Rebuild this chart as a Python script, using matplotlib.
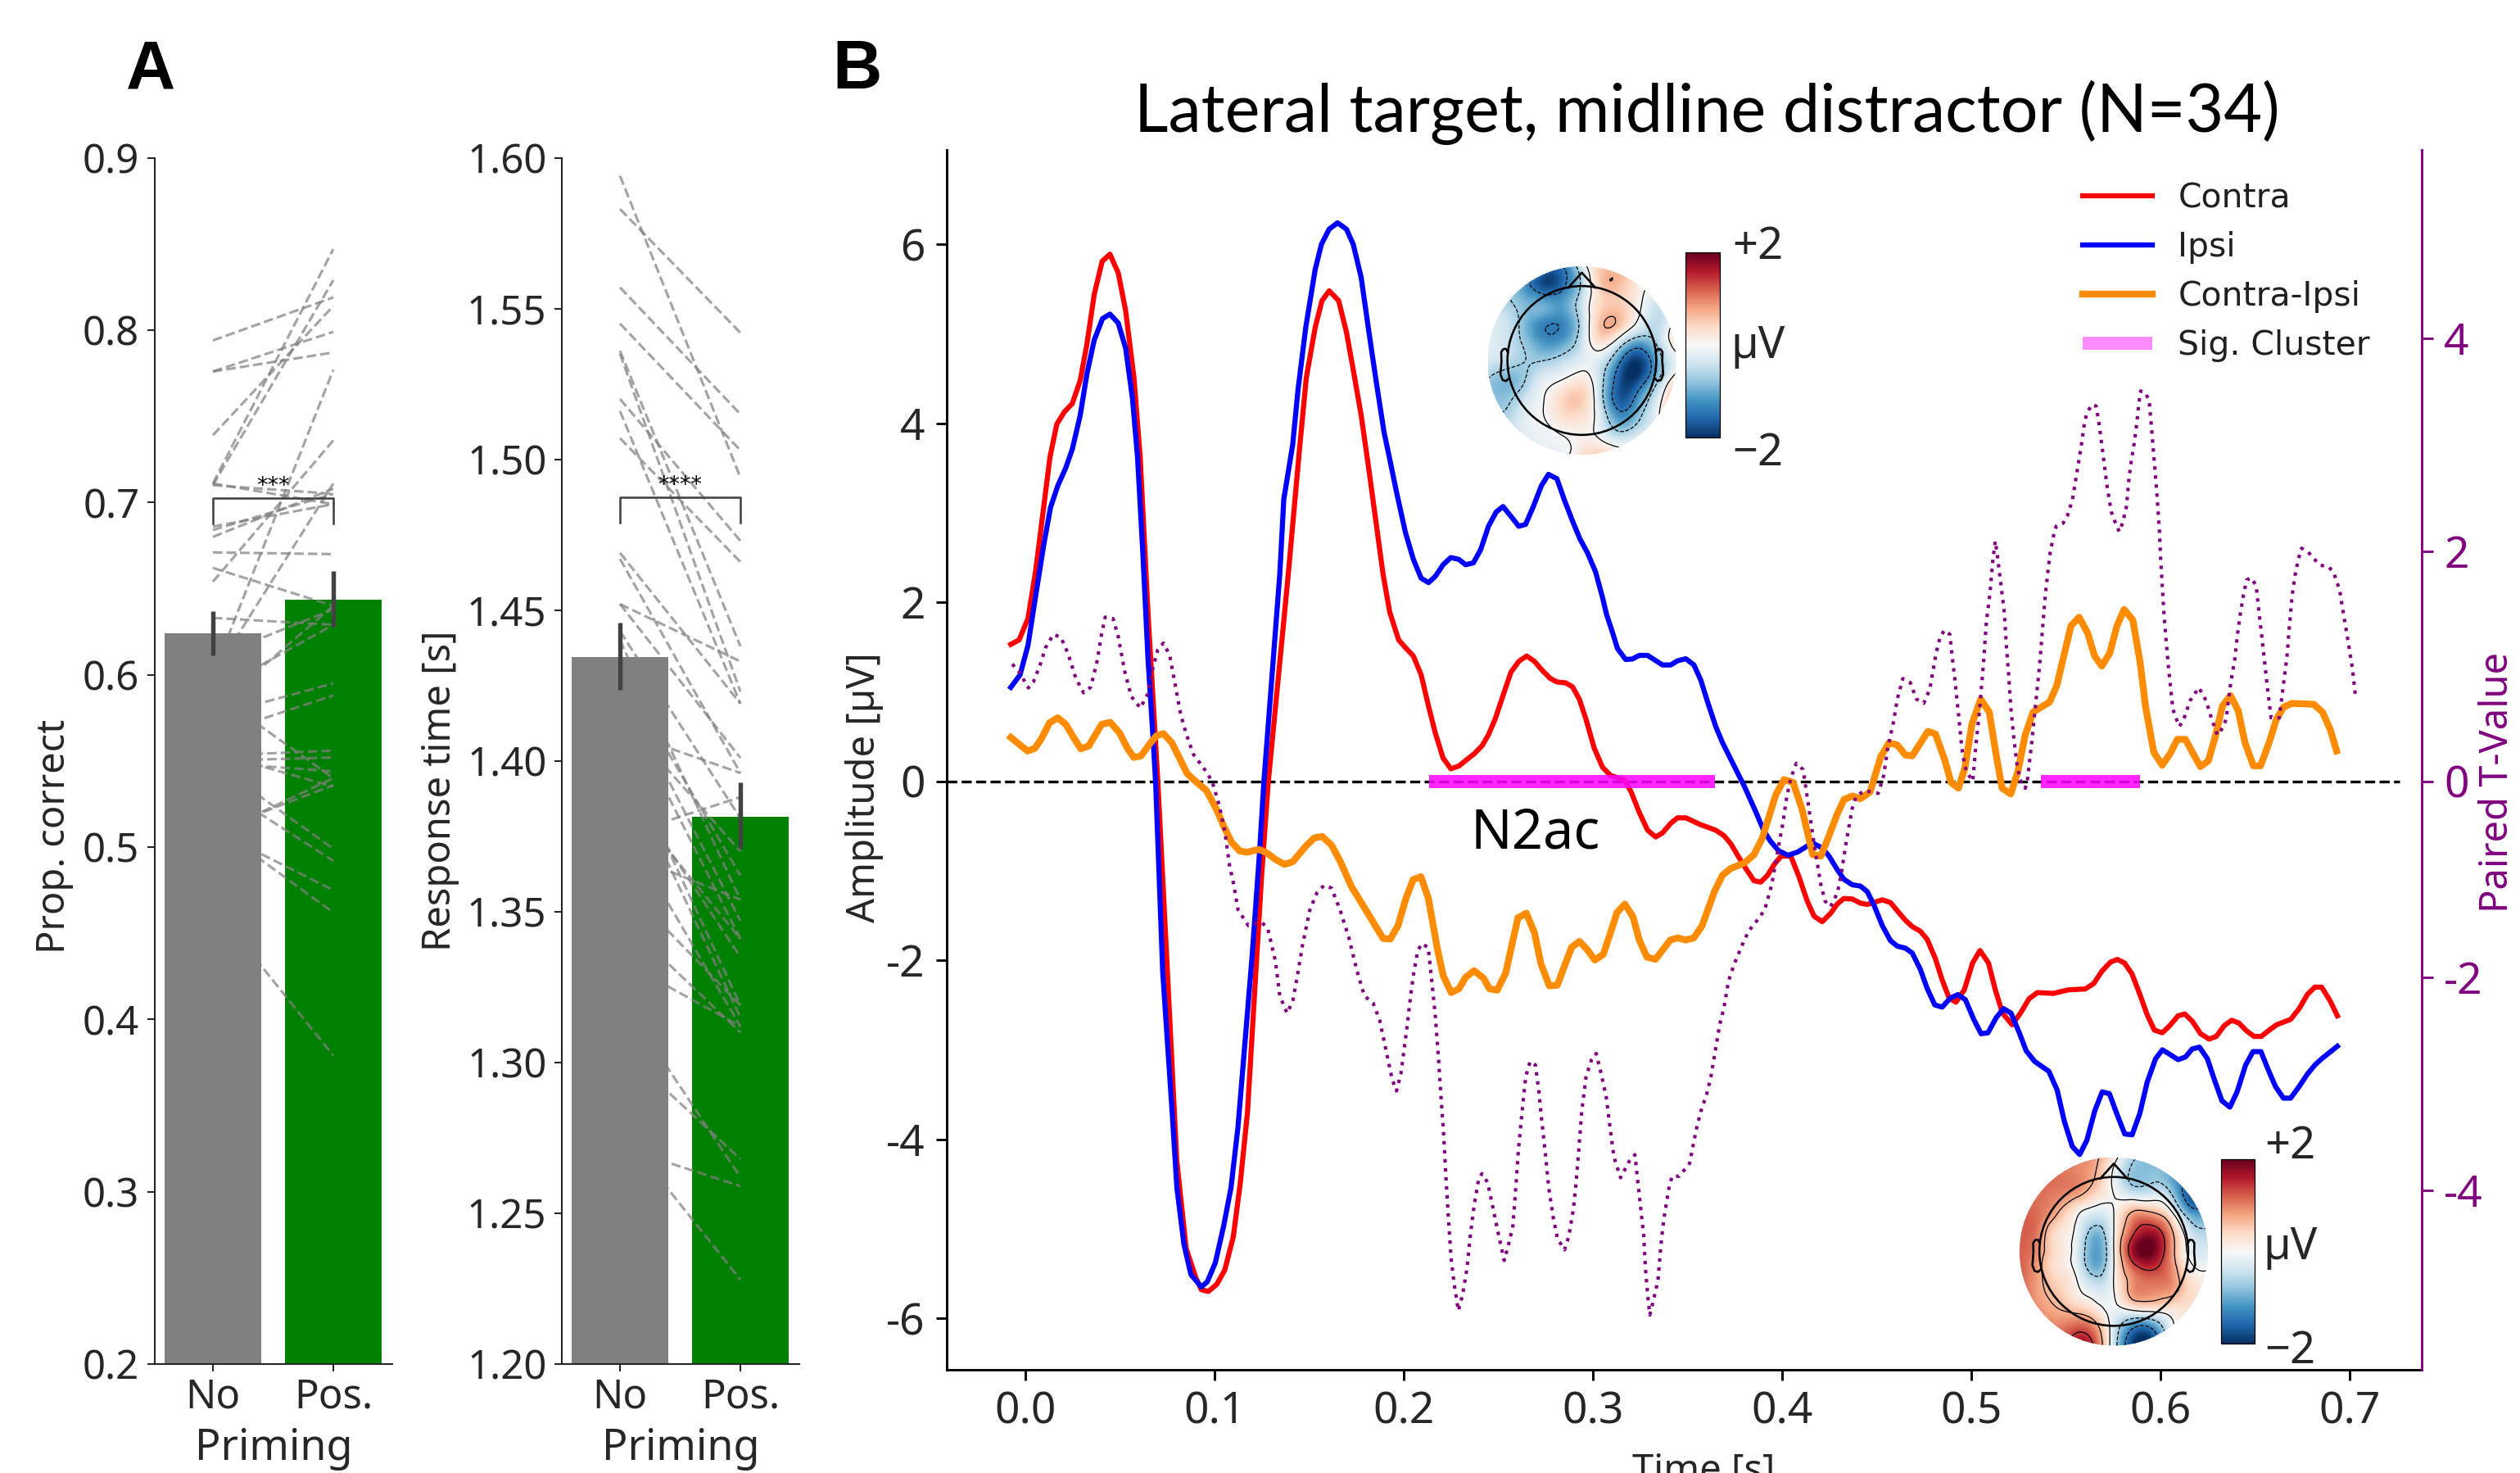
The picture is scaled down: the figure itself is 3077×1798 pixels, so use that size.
import numpy as np
import matplotlib
matplotlib.use("Agg")
import matplotlib.pyplot as plt
from matplotlib.lines import Line2D
from matplotlib.patches import Ellipse, Circle
from matplotlib.tri import Triangulation, UniformTriRefiner
from matplotlib.cm import ScalarMappable
from matplotlib.colors import Normalize

plt.rcParams['font.family'] = ['Noto Sans', 'DejaVu Sans']
plt.rcParams['axes.unicode_minus'] = False
plt.rcParams['contour.negative_linestyle'] = 'dashed'

# ---------------- panel A data ----------------
priming = ['No', 'Pos.']
acc_mean = [0.624, 0.6437]
acc_err = [[0.611, 0.637], [0.628, 0.660]]
rt_mean = [1.4345, 1.3816]
rt_err = [[1.4235, 1.4459], [1.371, 1.3928]]
acc_no = [.794, .776, .776, .739, .711, .710, .711, .710, .600, .684, .680, .686, .671, .654, .662, .633, .600,
          .580, .610, .590, .576, .565, .590, .553, .550, .549, .555, .507, .509, .549, .537, .510, .513, .466]
acc_pos = [.819, .799, .787, .814, .847, .829, .699, .705, .777, .705, .708, .699, .670, .736, .640, .629, .711,
           .640, .638, .629, .595, .588, .540, .556, .552, .544, .535, .540, .536, .499, .492, .475, .462, .379]
rt_no = [1.594, 1.583, 1.557, 1.545, 1.536, 1.535, 1.520, 1.516, 1.507, 1.469, 1.467, 1.452, 1.452, 1.443, 1.440,
         1.430, 1.425, 1.420, 1.415, 1.410, 1.405, 1.400, 1.395, 1.390, 1.380, 1.375, 1.370, 1.360, 1.348, 1.334,
         1.322, 1.305, 1.272, 1.278]
rt_pos = [1.494, 1.542, 1.515, 1.503, 1.438, 1.423, 1.473, 1.419, 1.466, 1.419, 1.396, 1.433, 1.401, 1.381, 1.354,
          1.362, 1.347, 1.341, 1.370, 1.396, 1.319, 1.315, 1.335, 1.341, 1.312, 1.388, 1.354, 1.319, 1.310, 1.312,
          1.262, 1.268, 1.259, 1.228]

# ---------------- panel B data ----------------
contra_t = [-.0077,-.0033,.0014,.0055,.0097,.0130,.0166,.0207,.0248,.0290,.0325,.0364,.0406,.0447,.0491,.0530,.0574,.0607,.0648,
            .0701,.0751,.0800,.0850,.0900,.0930,.0967,.1012,.1054,.1099,.1136,.1174,.1211,.1248,.1284,.1390,.1449,.1485,
            .1532,.1568,.1606,.1656,.1697,.1733,.1775,.1816,.1855,.1891,.1926,.1973,.2015,.2051,.2092,.2131,.2167,.2208,
            .2249,.2291,.2332,.2374,.2415,.2448,.2484,.2525,.2567,.2608,.2650,.2691,.2732,.2774,.2810,.2856,.2892,.2928,
            .2964,.3007,.3051,.3094,.3166,.3202,.3245,.3289,.3332,.3368,.3411,.3447,.3491,.3570,.3649,.3693,.3729,.3772,
            .3808,.3851,.3887,.3923,.3959,.3995,.4046,.4089,.4133,.4169,.4212,.4256,.4292,.4327,.4371,.4414,.4450,.4530,
            .4573,.4609,.4652,.4688,.4731,.4767,.4810,.4847,.4883,.4919,.4963,.5007,.5046,.5091,.5127,.5165,.5216,.5260,
            .5305,.5350,.5433,.5513,.5602,.5647,.5691,.5736,.5772,.5810,.5849,.5891,.5930,.5968,.6010,.6049,.6093,.6129,
            .6168,.6212,.6257,.6295,.6337,.6376,.6414,.6456,.6495,.6533,.6575,.6614,.6688,.6733,.6777,.6816,.6852,.6896,.6935]
contra_v = [1.53,1.58,1.82,2.36,3.07,3.62,3.99,4.13,4.22,4.48,4.88,5.44,5.81,5.89,5.68,5.26,4.51,3.62,1.89,
            -.033,-2.13,-4.23,-5.22,-5.54,-5.68,-5.70,-5.62,-5.46,-5.09,-4.49,-3.70,-2.39,-1.08,-.006,2.32,3.71,4.51,
            5.07,5.37,5.48,5.37,5.02,4.60,4.09,3.48,2.87,2.31,1.89,1.58,1.48,1.40,1.19,.84,.54,.26,
            .14,.17,.24,.31,.40,.52,.70,.96,1.22,1.34,1.40,1.34,1.24,1.15,1.11,1.10,1.056,.919,
            .69,.37,.156,.064,.019,-.119,-.348,-.546,-.622,-.576,-.47,-.408,-.408,-.485,-.546,-.607,-.698,-.851,
            -.973,-1.11,-1.126,-1.05,-.927,-.836,-.836,-1.065,-1.339,-1.507,-1.568,-1.476,-1.37,-1.309,-1.315,-1.361,-1.376,-1.324,
            -1.355,-1.446,-1.553,-1.623,-1.675,-1.766,-1.98,-2.224,-2.422,-2.468,-2.33,-2.03,-1.89,-2.03,-2.33,-2.59,-2.72,-2.59,
            -2.43,-2.36,-2.37,-2.33,-2.32,-2.26,-2.12,-2.02,-1.99,-2.03,-2.15,-2.38,-2.61,-2.78,-2.81,-2.73,-2.62,-2.60,
            -2.68,-2.82,-2.88,-2.85,-2.73,-2.67,-2.70,-2.79,-2.85,-2.85,-2.78,-2.72,-2.66,-2.54,-2.38,-2.30,-2.30,-2.45,-2.62]

ipsi_t = [-.0077,-.0028,.0014,.0055,.0097,.0133,.0171,.0213,.0248,.0290,.0326,.0364,.0408,.0447,.0491,.0530,.0566,.0593,.0621,.0648,.0676,
          .0689,.0726,.0776,.0801,.0838,.0875,.0930,.0962,.1004,.1049,.1087,.1124,.1161,.1198,.1238,.1261,.1345,.1366,.1413,.1441,.1482,
          .1532,.1565,.1606,.1650,.1697,.1733,.1775,.1816,.1855,.1896,.1924,.1960,.2009,.2051,.2092,.2131,.2167,.2208,.2249,.2291,.2327,
          .2368,.2407,.2448,.2489,.2525,.2567,.2608,.2644,.2685,.2727,.2765,.2810,.2848,.2890,.2931,.2972,.3014,.3050,.3072,.3101,.3130,
          .3173,.3209,.3245,.3289,.3368,.3411,.3447,.3491,.3534,.3570,.3606,.3649,.3685,.3743,.3801,.3859,.3902,.3938,.3981,.4032,.4082,
          .4133,.4169,.4212,.4248,.4292,.4327,.4371,.4414,.4450,.4486,.4530,.4573,.4609,.4652,.4688,.4731,.4767,.4807,.4846,.4889,.4929,
          .4969,.5013,.5052,.5088,.5132,.5171,.5210,.5252,.5290,.5335,.5410,.5454,.5492,.5534,.5573,.5611,.5653,.5692,.5730,.5772,.5811,
          .5850,.5891,.5930,.5974,.6010,.6049,.6093,.6132,.6168,.6206,.6248,.6286,.6325,.6367,.6405,.6450,.6489,.6531,.6569,.6608,.6650,
          .6688,.6733,.6777,.6816,.6852,.6935]
ipsi_v = [1.05,1.19,1.52,2.08,2.64,3.06,3.30,3.50,3.71,4.09,4.56,4.93,5.17,5.22,5.12,4.84,4.28,3.62,2.55,1.38,.45,
          -.033,-2.13,-3.70,-4.54,-5.17,-5.51,-5.65,-5.59,-5.38,-4.96,-4.54,-3.86,-2.92,-1.97,-.79,0.0,2.32,3.15,3.76,4.37,5.07,
          5.72,6.00,6.17,6.24,6.17,6.00,5.63,5.02,4.46,3.90,3.62,3.25,2.78,2.48,2.27,2.22,2.29,2.42,2.50,2.48,2.42,
          2.44,2.59,2.85,3.01,3.07,2.96,2.85,2.87,3.07,3.30,3.43,3.38,3.15,2.92,2.71,2.55,2.34,2.06,1.865,1.68,1.483,
          1.361,1.367,1.407,1.407,1.30,1.30,1.346,1.37,1.30,1.132,.888,.614,.431,.187,-.058,-.332,-.546,-.668,-.775,-.827,-.79,
          -.723,-.698,-.744,-.836,-.988,-1.095,-1.156,-1.171,-1.232,-1.385,-1.614,-1.781,-1.842,-1.864,-1.919,-2.102,-2.315,-2.498,-2.523,-2.422,-2.383,
          -2.44,-2.66,-2.82,-2.81,-2.64,-2.54,-2.59,-2.80,-3.01,-3.13,-3.24,-3.45,-3.80,-4.08,-4.17,-4.01,-3.68,-3.47,-3.49,-3.73,-3.94,
          -3.95,-3.71,-3.36,-3.10,-3.00,-3.05,-3.11,-3.08,-2.99,-2.97,-3.10,-3.34,-3.57,-3.64,-3.47,-3.17,-3.02,-3.02,-3.22,-3.41,-3.54,
          -3.54,-3.41,-3.27,-3.17,-3.10,-2.96]

diff_t = [-.0077,.0012,.0051,.0085,.0127,.0171,.0214,.0259,.0293,.0335,.0403,.0449,.0498,.0537,.0573,.0611,.0661,.0692,.0730,.0775,.0813,.0854,.0897,.0957,
          .1010,.1049,.1090,.1132,.1170,.1235,.1276,.1322,.1370,.1413,.1481,.1527,.1569,.1618,.1663,.1724,.1785,.1845,.1891,.1929,.1970,.2012,.2050,.2091,.2130,
          .2179,.2209,.2251,.2292,.2327,.2372,.2422,.2453,.2494,.2539,.2569,.2604,.2648,.2691,.2726,.2770,.2812,.2850,.2888,.2929,.2972,.3010,.3055,.3093,.3127,
          .3169,.3212,.3245,.3286,.3331,.3409,.3449,.3490,.3533,.3577,.3642,.3685,.3729,.3801,.3851,.3895,.3967,.4010,.4058,.4104,.4162,.4205,.4248,.4292,.4327,
          .4371,.4414,.4465,.4522,.4565,.4609,.4652,.4688,.4771,.4811,.4859,.4893,.4932,.4966,.5004,.5050,.5095,.5133,.5163,.5209,.5247,.5285,.5327,.5414,.5451,
          .5489,.5527,.5570,.5615,.5652,.5690,.5732,.5770,.5808,.5854,.5892,.5922,.5965,.6009,.6051,.6089,.6132,.6173,.6211,.6253,.6290,.6327,.6370,.6411,.6446,
          .6491,.6529,.6575,.6613,.6651,.6693,.6810,.6856,.6897,.6931]
diff_v = [.49,.338,.370,.476,.652,.710,.636,.476,.363,.395,.636,.659,.540,.379,.267,.283,.428,.508,.533,.428,.267,.090,.004,-.102,
          -.311,-.504,-.680,-.777,-.793,-.761,-.799,-.873,-.928,-.899,-.728,-.632,-.616,-.712,-.889,-1.178,-1.387,-1.595,-1.756,-1.762,-1.611,-1.306,-1.098,-1.066,-1.306,
          -1.884,-2.173,-2.360,-2.318,-2.190,-2.116,-2.200,-2.318,-2.334,-2.142,-1.853,-1.525,-1.474,-1.692,-2.045,-2.286,-2.277,-2.061,-1.853,-1.789,-1.885,-1.997,-1.933,-1.692,-1.467,
          -1.371,-1.516,-1.773,-1.965,-1.988,-1.773,-1.750,-1.773,-1.750,-1.614,-1.232,-1.049,-.973,-.912,-.820,-.637,-.149,.019,-.012,-.302,-.820,-.836,-.607,-.363,-.204,
          -.164,-.195,-.119,.278,.430,.406,.293,.284,.559,.527,.244,-.013,-.077,.148,.645,.918,.774,.276,-.077,-.141,.116,.517,.774,.886,1.063,
          1.400,1.737,1.833,1.657,1.400,1.288,1.432,1.737,1.920,1.801,1.336,.822,.324,.180,.308,.469,.469,.308,.164,.228,.501,.838,.957,.790,.437,
          .173,.173,.437,.694,.829,.870,.861,.774,.581,.340]

tval_t = [-.0069,-.0030,.0016,.0042,.0077,.0107,.0148,.0188,.0226,.0267,.0308,.0346,.0381,.0403,.0422,.0464,.0491,.0525,.0560,.0608,.0646,.0674,.0700,.0730,.0763,.0790,.0821,.0851,.0889,.0957,.0988,
          .1026,.1056,.1079,.1102,.1124,.1178,.1246,.1281,.1322,.1345,.1383,.1413,.1443,.1466,.1504,.1542,.1580,.1618,.1663,.1709,.1754,.1792,.1838,.1873,.1939,.1962,.1985,.2015,.2038,.2053,.2073,.2094,.2129,.2152,.2167,
          .2182,.2197,.2210,.2223,.2235,.2250,.2266,.2289,.2311,.2334,.2349,.2372,.2395,.2413,.2443,.2471,.2501,.2531,.2554,.2577,.2592,.2607,.2626,.2645,.2668,.2696,.2714,.2729,.2749,.2767,.2790,.2813,.2850,.2873,.2896,.2911,
          .2926,.2941,.2964,.2992,.3017,.3040,.3070,.3093,.3111,.3146,.3192,.3222,.3237,.3253,.3268,.3278,.3290,.3301,.3321,.3344,.3359,.3374,.3390,.3404,.3419,.3457,.3511,.3530,.3548,.3571,.3602,.3624,.3647,.3670,.3693,.3716,
          .3746,.3784,.3822,.3880,.3909,.3945,.3981,.4003,.4024,.4046,.4075,.4111,.4133,.4154,.4176,.4205,.4227,.4256,.4292,.4313,.4335,.4350,.4371,.4392,.4436,.4508,.4537,.4558,.4587,.4609,.4638,.4678,.4710,.4749,
          .4781,.4814,.4837,.4860,.4887,.4897,.4913,.4932,.4950,.4966,.4984,.5008,.5023,.5042,.5064,.5080,.5099,.5115,.5127,.5136,.5151,.5175,.5186,.5197,.5209,.5224,.5240,.5257,.5285,.5297,.5318,.5338,.5360,.5376,.5391,.5406,
          .5417,.5436,.5449,.5485,.5508,.5535,.5558,.5581,.5600,.5615,.5637,.5660,.5675,.5694,.5717,.5740,.5758,.5782,.5801,.5820,.5834,.5846,.5861,.5874,.5884,.5895,.5919,.5940,.5952,.5964,.5975,.5986,.5995,.6001,.6010,.6018,
          .6029,.6041,.6051,.6066,.6081,.6101,.6127,.6157,.6203,.6241,.6271,.6301,.6329,.6347,.6370,.6393,.6408,.6423,.6438,.6456,.6479,.6506,.6521,.6537,.6552,.6567,.6585,.6628,.6648,.6669,.6681,.6696,.6711,.6730,.6746,.6780,
          .6841,.6890,.6916,.6947,.6969,.6992,.7015,.7030]
tval_v = [.941,.861,.718,.772,.929,1.096,1.22,1.193,1.037,.807,.672,.726,.983,1.225,1.382,1.368,1.198,.875,.637,.529,.659,.902,1.077,1.139,1.023,.767,.47,.281,.092,-.07,-.164,
          -.393,-.65,-.946,-1.135,-1.365,-1.513,-1.478,-1.54,-1.85,-2.174,-2.336,-2.228,-1.931,-1.688,-1.365,-1.203,-1.135,-1.162,-1.365,-1.621,-1.945,-2.174,-2.241,-2.404,-2.958,-3.066,-2.904,-2.5,-2.148,-1.96,-1.757,-1.684,-1.717,-2.094,-2.364,
          -2.715,-3.12,-3.443,-3.875,-4.226,-4.63,-4.873,-5.13,-4.981,-4.738,-4.469,-4.145,-3.902,-3.843,-3.924,-4.158,-4.415,-4.658,-4.509,-4.334,-3.983,-3.605,-3.255,-2.931,-2.79,-2.823,-3.066,-3.335,-3.659,-3.983,-4.253,-4.455,-4.558,-4.428,-4.185,-3.929,
          -3.605,-3.255,-2.931,-2.777,-2.715,-2.877,-3.12,-3.443,-3.686,-3.881,-3.727,-3.665,-3.916,-4.172,-4.415,-4.738,-4.995,-5.17,-5.022,-4.846,-4.523,-4.28,-4.104,-3.956,-3.867,-3.867,-3.746,-3.578,-3.416,-3.255,-3.093,-2.931,-2.688,-2.445,-2.283,-2.04,
          -1.879,-1.717,-1.568,-1.438,-1.361,-1.13,-.772,-.566,-.31,-.131,.01,-.049,-.31,-.566,-.823,-1.13,-1.284,-1.336,-1.208,-1.028,-.772,-.618,-.413,-.298,-.246,-.272,-.105,.151,.382,.613,.805,.767,.613,.574,
          .707,1.044,1.206,1.26,1.219,1.044,.801,.477,.154,-.022,-.095,-.157,.154,.477,.936,1.341,1.611,1.934,2.096,1.988,1.772,1.422,1.098,.855,.531,.262,.019,-.143,-.224,-.143,.181,.531,.909,1.26,1.584,1.826,
          1.988,2.156,2.236,2.263,2.334,2.487,2.738,2.987,3.229,3.31,3.378,3.364,3.202,2.946,2.622,2.371,2.285,2.185,2.272,2.42,2.69,2.852,3.014,3.189,3.364,3.505,3.494,3.418,3.175,2.919,2.676,2.42,2.177,1.934,1.665,1.422,
          1.179,.936,.761,.518,.437,.356,.445,.599,.72,.599,.424,.275,.342,.424,.747,.99,1.233,1.422,1.584,1.732,1.751,1.678,1.422,1.179,.936,.693,.437,.437,.72,1.017,1.287,1.584,1.772,1.934,2.029,1.994,
          1.872,1.853,1.799,1.637,1.395,1.152,.896,.653]

cluster_spans = [(.2133, .3645), (.537, .589)]

topo_early = [[-.5,-.6,-.8,-1.2,-1.4,-.3,.5,.6,.3,-.2,-.3],
              [-.5,-.7,-1.2,-1.8,-1.5,-.6,.5,.6,.2,-.2,-.3],
              [-.4,-.6,-.9,-1.0,-1.1,-.4,.4,.5,.1,-.4,-.3],
              [-.3,-.4,-.9,-1.3,-1.3,-.5,.6,.6,-.1,-.5,.2],
              [-.2,-.4,-.8,-1.2,-1.1,-.4,.3,-.3,-1.0,-.6,.3],
              [-.3,-.5,-.7,-.7,-.5,-.2,-.3,-1.3,-1.9,-1.0,-.2],
              [-.7,-.9,-.7,-.2,0,.2,-.5,-1.7,-1.8,-.8,.3],
              [-.8,-.8,-.4,0,.4,.5,-.5,-1.7,-1.2,-.3,1.1],
              [-.6,-.6,-.2,0,.3,.3,-.3,-1.2,-.8,-.1,1.0],
              [-.3,-.3,-.2,-.1,0,.1,-.1,-.5,-.3,-.1,.4],
              [-.2,-.2,-.2,-.1,-.1,.3,.5,.3,.1,0,0]]
topo_late = [[1.0,1.0,1.0,1.0,.8,.2,-.6,-.9,-1.0,-.9,-.8],
             [1.1,1.1,1.1,1.0,.7,-.1,-.8,-.8,-1.0,-1.4,-1.2],
             [1.1,1.1,1.0,.8,.4,0,-.3,-.3,-.6,-1.7,-1.4],
             [1.2,1.1,.7,.1,-.3,0,.8,.8,.2,-1.0,-1.0],
             [1.2,1.0,.3,-.1,-.9,0,1.3,1.7,.9,-.3,-.6],
             [1.2,.9,.3,-.2,-1.1,0,1.7,2.0,1.0,-.1,-.3],
             [1.2,.8,.3,-.1,-.9,0,1.1,1.4,1.0,.2,0],
             [1.2,.8,.5,.1,-.3,0,.9,1.0,.9,.4,.3],
             [1.2,.9,.7,.5,.2,-.1,.2,.3,.3,.3,.3],
             [1.1,1.0,1.0,1.2,.9,-.3,-1.3,-1.3,-.2,.3,.3],
             [1.0,1.0,1.2,1.7,1.3,-.4,-1.9,-2.0,-.4,.3,.3]]

W, H = 3077, 1798
fig = plt.figure(figsize=(W / 300, H / 300), dpi=300, facecolor='white')
INK = '#262626'


def px_axes(x0, y0, x1, y1, **kw):
    return fig.add_axes([x0 / W, 1 - y1 / H, (x1 - x0) / W, (y1 - y0) / H], **kw)


def px_text(x, y, s, **kw):
    kw.setdefault('ha', 'center')
    kw.setdefault('va', 'center')
    return fig.text(x / W, 1 - y / H, s, **kw)


def bar_panel(box, means, errs, no, pos, ylim, yticks, yfmt, ylabel, lab_x, lab_y, stars, br_top, br_bot):
    ax = px_axes(*box)
    ax.bar([0, 1], np.array(means) - ylim[0], bottom=ylim[0], width=0.8, color=['#808080', '#008000'], zorder=2)
    for a, b in zip(no, pos):
        ax.plot([0, 1], [a, b], ls=(0, (3.7, 1.6)), color='gray', alpha=0.72, lw=0.75, zorder=3)
    for i, e in enumerate(errs):
        ax.plot([i, i], e, color='#424242', lw=1.3, zorder=4, solid_capstyle='butt')
    ax.plot([0, 0, 1, 1], [br_bot, br_top, br_top, br_bot], color='#424242', lw=0.62, zorder=5)
    ax.text(0.5, br_top + (ylim[1] - ylim[0]) * 0.0005, stars, ha='center', va='bottom', fontsize=6.5, color='k',
            family='DejaVu Sans', linespacing=0, zorder=6)
    ax.set_xlim(-.485, 1.49)
    ax.set_ylim(*ylim)
    ax.set_xticks([0, 1], priming)
    ax.set_yticks(yticks, [yfmt % v for v in yticks])
    ax.tick_params(axis='both', length=2.2, width=0.5, labelsize=11.8, labelcolor=INK, color=INK, pad=2.2)
    ax.tick_params(axis='x', pad=1.5)
    for s in ('top', 'right'):
        ax.spines[s].set_visible(False)
    for s in ('left', 'bottom'):
        ax.spines[s].set_linewidth(0.5)
        ax.spines[s].set_color(INK)
    ax.set_xlabel('Priming', fontsize=12.5, color=INK)
    ax.xaxis.set_label_coords(0.5, -0.0705, transform=ax.transAxes)
    ax.xaxis.label.set_va('center')
    ax.set_ylabel(ylabel, fontsize=11.3, color=INK)
    ax.yaxis.set_label_coords(lab_x, lab_y)
    return ax


bar_panel((188.7, 192.6, 479, 1665), acc_mean, acc_err, acc_no, acc_pos, (0.2, 0.9),
          [.2, .3, .4, .5, .6, .7, .8, .9], '%.1f', 'Prop. correct', -0.34, 0.4375,
          '***', .7027, .6879)
bar_panel((685.8, 192.6, 976, 1665), rt_mean, rt_err, rt_no, rt_pos, (1.2, 1.6),
          [1.20, 1.25, 1.30, 1.35, 1.40, 1.45, 1.50, 1.55, 1.60], '%.2f', 'Response time [s]', -0.43, 0.475,
          '****', 1.4874, 1.479)

px_text(184, 86, 'A', fontsize=20, fontweight='bold', family=['Liberation Sans Narrow', 'Liberation Sans'])
px_text(1047, 86, 'B', fontsize=20, fontweight='bold', family=['Liberation Sans Narrow', 'Liberation Sans'])

# ---------------- panel B ----------------
ax = px_axes(1155.5, 182.5, 2957.5, 1672)
ax.set_xlim((1155.5 - 1252) / 2310, (2957.5 - 1252) / 2310)
ax.set_ylim((953.7 - 1672) / 109.25, (953.7 - 182.5) / 109.25)
ax.plot([ax.get_xlim()[0], .7265], [0, 0], color='k', lw=0.8, ls='--', zorder=1)
ax.plot(contra_t, contra_v, color='red', lw=1.5, zorder=2, label='Contra')
ax.plot(ipsi_t, ipsi_v, color='blue', lw=1.5, zorder=3, label='Ipsi')
ax.plot(diff_t, diff_v, color='darkorange', lw=2.0, zorder=4, label='Contra-Ipsi')
for a, b in cluster_spans:
    ax.plot([a, b], [0, 0], color='magenta', lw=3.84, alpha=0.85, solid_capstyle='butt', zorder=5)
ax.set_xticks([0, .1, .2, .3, .4, .5, .6, .7])
ax.set_yticks([-6, -4, -2, 0, 2, 4, 6])
ax.tick_params(axis='both', length=3.2, width=0.7, labelsize=12.8, labelcolor=INK, pad=3)
for s in ('top', 'right'):
    ax.spines[s].set_visible(False)
for s in ('left', 'bottom'):
    ax.spines[s].set_linewidth(0.7)
ax.set_ylabel('Amplitude [µV]', fontsize=11.3, color=INK)
ax.yaxis.set_label_coords((1079 - 1155.5) / 1802, (1672 - 961) / 1489.5)
ax.set_xlabel('Time [s]', fontsize=11.3, color=INK)
ax.xaxis.set_label_coords(0.5 + 24 / 1802, (1672 - 1796) / 1489.5)
ax.xaxis.label.set_va('center')
ax.text(0.2695, -0.58, 'N2ac', fontsize=16, ha='center', va='center', color='k')
handles = [Line2D([], [], color='red', lw=1.5), Line2D([], [], color='blue', lw=1.5),
           Line2D([], [], color='darkorange', lw=2.0),
           Line2D([], [], color='magenta', lw=3.84, alpha=0.45, solid_capstyle='butt')]
fig.legend(handles, ['Contra', 'Ipsi', 'Contra-Ipsi', 'Sig. Cluster'], loc='upper left',
           bbox_to_anchor=(2543 / W, 1 - 222 / H), bbox_transform=fig.transFigure, frameon=False, borderpad=0,
           borderaxespad=0, prop={'family': 'DejaVu Sans', 'size': 9.8}, handlelength=2.07, handletextpad=0.78,
           labelspacing=0.49, labelcolor='#202020')

# paired t axis: its ticks are linear except the zero mark, as drawn in the reference
T0, TS = 933.0, 130.0
PURPLE = '#800080'
tx = ax.twinx()
tx.set_xlim(ax.get_xlim())
tx.set_ylim((T0 - 1672) / TS, (T0 - 182.5) / TS)
tx.plot(tval_t, tval_v, color=PURPLE, lw=1.0, ls=(0, (1, 1.65)))
tx.set_yticks([-4, -2, (T0 - 953.7) / TS, 2, 4], ['-4', '-2', '0', '2', '4'])
tx.tick_params(axis='y', length=3.4, width=0.7, labelsize=12.8, color=PURPLE, labelcolor=PURPLE, pad=3)
for s in ('top', 'left', 'bottom'):
    tx.spines[s].set_visible(False)
tx.spines['right'].set_color(PURPLE)
tx.spines['right'].set_linewidth(0.7)
tx.set_ylabel('Paired T-Value', fontsize=11.3, color=PURPLE)
tx.yaxis.set_label_coords((3026 - 1155.5) / 1802, (1672 - 955) / 1489.5)

px_text(2084, 137, 'Lateral target, midline distractor (N=34)', fontsize=19.4, color='k', family=['Lato', 'DejaVu Sans'])


# ---------------- scalp maps ----------------
def scalp(cx, cy, grid, cb_box, lab_x, lab_ys):
    R = 115.0
    a = px_axes(cx - R, cy - R, cx + R, cy + R)
    a.set_xlim(-1, 1)
    a.set_ylim(-1, 1)
    a.axis('off')
    g = np.array(grid)[::-1]
    n = g.shape[0]
    xs = np.linspace(-1, 1, n)
    X, Y = np.meshgrid(xs, xs)
    tri = Triangulation(X.ravel(), Y.ravel())
    t2, z2 = UniformTriRefiner(tri).refine_field(g.ravel(), subdiv=3)
    clip = Ellipse((0, 0), 2, 2, transform=a.transData)
    pc = a.tripcolor(t2, z2, shading='gouraud', cmap='RdBu_r', vmin=-2, vmax=2)
    pc.set_clip_path(clip)
    cs = a.tricontour(t2, z2, levels=[-1.4, -.7, 0, .7, 1.4], colors='k', linewidths=0.3)
    cs.set_clip_path(clip)
    r = 0.79
    a.add_patch(Circle((0, 0), r, fill=False, ec='k', lw=0.62))
    k = r / 0.5
    a.plot([-.09 * k, 0, .09 * k], [.49 * k, .59 * k, .49 * k], color='k', lw=0.62)
    ex = np.array([.497, .510, .518, .5299, .5419, .54, .547, .532, .510, .489])
    ey = np.array([.0555, .0775, .0783, .0746, .0555, -.0055, -.0932, -.1313, -.1384, -.1199])
    a.plot(ex * k, ey * k, color='k', lw=0.62)
    a.plot(-ex * k, ey * k, color='k', lw=0.62)
    c = px_axes(*cb_box)
    cb = fig.colorbar(ScalarMappable(Normalize(-2, 2), 'RdBu_r'), cax=c)
    cb.set_ticks([])
    cb.outline.set_linewidth(0.3)
    for s, y in zip(['+2', 'µV', '\u22122'], lab_ys):
        px_text(lab_x, y, s, fontsize=13, color=INK)


scalp(1931.5, 440, topo_early, (2058, 308, 2100, 534), 2146, (301, 422, 553))
scalp(2581, 1527.5, topo_late, (2712, 1415, 2753, 1640), 2796, (1400, 1522, 1650))

fig.savefig('out.png', dpi=300, facecolor='white')
